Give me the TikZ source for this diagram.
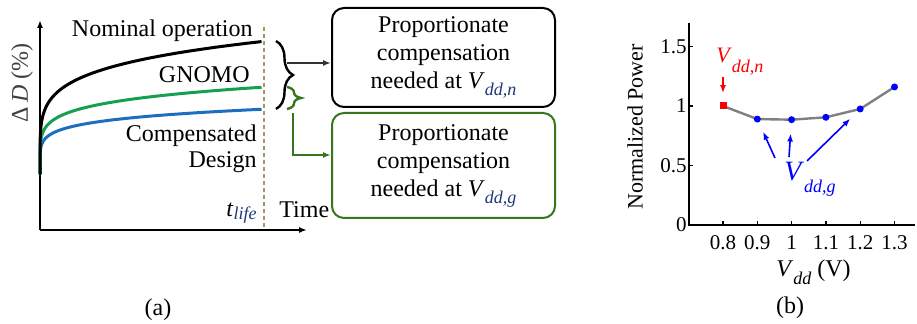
\documentclass[tikz,border=0pt]{standalone}
\usepackage{fontspec}
\setmainfont{Liberation Serif}
\usepackage{tikz}
\usetikzlibrary{arrows.meta,calc,positioning,decorations.pathreplacing}
\definecolor{curvegreen}{RGB}{20,160,80}
\definecolor{curveblue}{RGB}{30,110,190}
\definecolor{boxgreen}{RGB}{56,118,29}
\definecolor{subnavy}{RGB}{31,56,120}
\definecolor{lifetan}{RGB}{165,150,105}
\newcommand{\lowsub}[2][6pt]{\raisebox{-#1}{\fontsize{9}{9}\selectfont\itshape #2}}
\tikzset{
	txt/.style={font=\fontsize{12}{14}\selectfont, inner sep=0pt},
	ticklbl/.style={font=\fontsize{10.5}{12}\selectfont, inner sep=1pt},
	axisline/.style={line width=1pt},
	curve/.style={line width=1.5pt},
	compbox/.style={draw, rounded corners=6pt, line width=1pt, minimum width=111.5pt, minimum height=49.5pt, align=center, font=\fontsize{12}{14}\selectfont},
	bracestyle/.style={decorate, line width=1.2pt},
	link/.style={-{Latex[length=4pt,width=3pt]}, line width=0.8pt},
	vdot/.style={circle, fill=blue, inner sep=0pt, minimum size=3.5pt},
	vsq/.style={rectangle, fill=red, inner sep=0pt, minimum size=3.5pt},
}

\begin{document}
\begin{tikzpicture}[x=0.5pt, y=-0.5pt]
	\useasboundingbox (0,0) rectangle (917,324);
	
	% (a) delay degradation over time
	\draw[axisline, -{Latex[length=4pt,width=3pt]}] (40,230) -- (40,20);
	\draw[axisline, -{Latex[length=4pt,width=3pt]}] (40,230) -- (307,230);
	\draw[lifetan, line width=0.7pt, dash pattern=on 2pt off 1.5pt] (264,27) -- (264,230);
	
	\draw[curve, curveblue] plot[domain=0.02:2.4607, samples=80, variable=\s] ({40+\s^6}, {175-28*\s^0.948});
	\draw[curve, curvegreen] plot[domain=0.02:2.4607, samples=80, variable=\s] ({40+\s^6}, {175-35.8*\s^0.996});
	\draw[curve, black] plot[domain=0.02:2.4607, samples=80, variable=\s] ({40+\s^6}, {175-48.6*\s^1.122});
	
	\node[txt, anchor=base east] (nomlbl) at (253,37) {Nominal operation};
	\node[txt, anchor=base east] (gnomolbl) at (250,83) {GNOMO};
	\node[txt, anchor=base east] (complbl) at (257,142) {Compensated};
	\node[txt, anchor=base east] (desiglbl) at (257,168) {Design};
	\node[txt, rotate=90, text=black!75] (dlbl) at (22,83) {Δ\,\textit{D} (\%)};
	\node[txt, anchor=base west] (tlbl) at (226,217) {\textit{t}{\color{subnavy}\lowsub[1.5pt]{life}}};
	\node[txt, anchor=base west] (timelbl) at (279,218) {Time};
	
	% braces and boxes
	\draw[bracestyle, decoration={brace, amplitude=8.5pt}] (276,41) -- (276,109);
	\draw[bracestyle, boxgreen, decoration={brace, amplitude=7pt}] (287,87) -- (287,109);
	
	\node[compbox] (nbox) at (443.5,57.5) {Proportionate\\compensation\\needed at \textit{V}{\color{subnavy}\lowsub[3.5pt]{dd,n}}};
	\node[compbox, draw=boxgreen, minimum height=52.5pt] (gbox) at (443.5,165.5) {Proportionate\\compensation\\needed at \textit{V}{\color{subnavy}\lowsub[3.5pt]{dd,g}}};
	
	\coordinate (nfrom) at (287,63);
	\draw[link, black!80] (nfrom) -- (nbox.west |- nfrom);
	\coordinate (gfrom) at (293,113);
	\coordinate (gbend) at (293,155);
	\draw[link, boxgreen] (gfrom) -- (gbend) -- (gbox.west |- gbend);
	
	% (b) normalized power against Vdd
	\begin{scope}[shift={(723,225)}, x=171.5pt, y=59.5pt]
		\draw[line width=0.8pt] (-0.099,1.7) -- (-0.099,0) -- (0.56,0);
		\foreach \v in {0,0.5,1,1.5}{
			\draw[line width=0.6pt] (-0.099,\v) -- ++(2pt,0);
			\node[left, ticklbl] (yt\v) at (-0.099,\v) {\v};
		}
		\foreach \v [count=\i from 0] in {0.8,0.9,1,1.1,1.2,1.3}{
			\draw[line width=0.6pt] ({0.1*\i},0) -- ++(0,2pt);
			\node[ticklbl, anchor=north, inner sep=0pt] (xt\i) at ({0.1*\i},-0.085) {\v};
		}
		
		\foreach \p [count=\n from 0] in {1.0,0.89,0.885,0.905,0.975,1.16}
			\coordinate (c\n) at ({0.1*\n},\p);
		\draw[gray, line width=1.2pt] (c0) -- (c1) -- (c2) -- (c3) -- (c4) -- (c5);
		\node[vsq] (p0) at (c0) {};
		\foreach \n in {1,...,5}
			\node[vdot] (p\n) at (c\n) {};
	\end{scope}
	
	\node[font=\fontsize{11}{12}\selectfont, rotate=90] (powlbl) at (635,127) {Normalized Power};
	\node[txt, anchor=base west] (vddlbl) at (776,277) {\textit{V}\lowsub[4pt]{dd} (V)};
	
	\node[txt, anchor=base west, text=red] (vnlbl) at (716,63) {\fontsize{11}{12}\selectfont\textit{V}\lowsub[5pt]{dd,n}};
	\coordinate (nstart) at (723,77);
	\draw[red, link, shorten >=4.5pt] (nstart) -- (p0);
	
	\node[txt, anchor=base west, text=blue] (vglbl) at (784,181) {\fontsize{14}{14}\selectfont\textit{V}\lowsub[6pt]{dd,g}};
	\coordinate (g1) at (775,158);
	\coordinate (g2) at (789,157);
	\coordinate (g3) at (807,161);
	\draw[blue, link, shorten >=5pt] (g1) -- (p1);
	\draw[blue, link, shorten >=5pt] (g2) -- (p2);
	\draw[blue, link, shorten >=5pt] (g3) -- (p4);
	
	\node[txt] (capa) at (158,310) {(a)};
	\node[txt] (capb) at (790,308) {(b)};
\end{tikzpicture}
\end{document}
